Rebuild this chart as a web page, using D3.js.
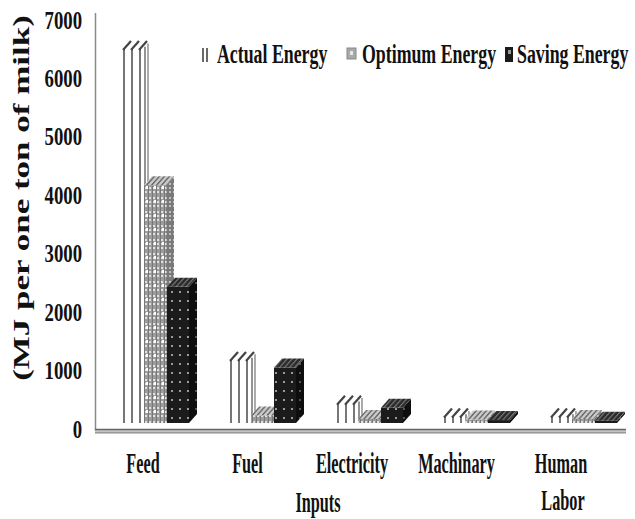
<!DOCTYPE html>
<html><head><meta charset="utf-8">
<script src="https://cdn.jsdelivr.net/npm/d3@7"></script>
<style>
html,body{margin:0;padding:0;background:#fff;}
svg{display:block;font-family:"Liberation Serif","Times New Roman",serif;font-weight:bold;}
</style></head><body>
<svg id="chart" width="635" height="519"></svg>
<script>
// Energy inputs per ton of milk (MJ)
const categories = ["Feed", "Fuel", "Electricity", "Machinary", "Human Labor"];
const seriesNames = ["Actual Energy", "Optimum Energy", "Saving Energy"];
const actualEnergy = [6400, 1080, 330, 110, 110];
const optimumEnergy = [4070, 130, 70, 60, 70];
const savingEnergy = [2330, 950, 260, 50, 40];
const yTicks = [0, 1000, 2000, 3000, 4000, 5000, 6000, 7000];
const yTitle = "(MJ per one ton of milk)";
const xTitle = "Inputs";

const seriesValues = [actualEnergy, optimumEnergy, savingEnergy];

const svg = d3.select("#chart");
const defs = svg.append("defs");

// scales
const y = d3.scaleLinear().domain([0, 7000]).range([429, 20]);
const xBand = d3.scaleBand().domain(categories).range([121, 656]).padding(0);
const xSeries = d3.scaleBand().domain(seriesNames).range([0, 69]).padding(0);
const xLabel = d3.scalePoint().domain(categories).range([143, 561]);

// 3D box geometry
const W = 22, DX = 8, DY = 9, LIFT = 6;
const base = y(0) - LIFT;

// fill patterns
function dotPattern(id, w, h, bg, dots) {
  const p = defs.append("pattern").attr("id", id)
    .attr("patternUnits", "userSpaceOnUse").attr("width", w).attr("height", h);
  p.append("rect").attr("width", w).attr("height", h).attr("fill", bg);
  dots.forEach(d => p.append("rect").attr("x", d[0]).attr("y", d[1])
    .attr("width", d[2]).attr("height", d[3]).attr("fill", d[4]));
}
// optimum: grey grid with light specks
dotPattern("pOpt", 8, 14, "#9c9c9c", [
  [0, 0, 1, 14, "#777"], [4, 0, 1, 14, "#777"],
  [1, 1, 2, 2, "#e0e0e0"], [5, 1, 2, 2, "#e0e0e0"],
  [1, 5, 2, 2, "#e0e0e0"], [5, 5, 2, 2, "#e0e0e0"],
  [1, 9, 2, 2, "#e0e0e0"], [5, 9, 2, 2, "#e0e0e0"],
  [2, 4, 2, 3, "#ffffff"]
]);
dotPattern("pOptSide", 8, 14, "#7a7a7a", [
  [1, 1, 2, 2, "#c0c0c0"], [5, 1, 2, 2, "#c0c0c0"],
  [1, 5, 2, 2, "#c0c0c0"], [5, 5, 2, 2, "#c0c0c0"],
  [1, 9, 2, 2, "#c0c0c0"], [5, 9, 2, 2, "#c0c0c0"]
]);
// saving: black with grey dots
dotPattern("pSave", 8, 9, "#1b1b1b", [
  [3, 3, 2, 2, "#9a9a9a"]
]);
dotPattern("pSaveSide", 8, 9, "#0e0e0e", [
  [3, 3, 2, 2, "#555"]
]);
// hatched top faces, strokes running along the depth direction
function hatch(id, bg, stroke, sw) {
  const p = defs.append("pattern").attr("id", id)
    .attr("patternUnits", "userSpaceOnUse").attr("width", 5).attr("height", 10)
    .attr("patternTransform", "skewX(-41.6)");
  p.append("rect").attr("width", 5).attr("height", 10).attr("fill", bg);
  p.append("rect").attr("x", 0).attr("width", sw).attr("height", 10).attr("fill", stroke);
}
hatch("pOptTop", "#c8c8c8", "#707070", 2);
hatch("pSaveTop", "#2c2c2c", "#777", 1.5);

// axes frame
svg.append("line").attr("x1", 95.5).attr("x2", 95.5).attr("y1", 13).attr("y2", 431)
  .attr("stroke", "#8a8a8a").attr("stroke-width", 1.5);
svg.append("rect").attr("x", 95).attr("y", 429).attr("width", 531).attr("height", 4).attr("fill", "#c4c4c4");
svg.append("line").attr("x1", 95).attr("x2", 626).attr("y1", 429.5).attr("y2", 429.5)
  .attr("stroke", "#666").attr("stroke-width", 1.3);
svg.append("line").attr("x1", 95).attr("x2", 626).attr("y1", 432.8).attr("y2", 432.8)
  .attr("stroke", "#8c8c8c").attr("stroke-width", 1.2);

// y axis labels, compressed horizontally and right-aligned at the axis group origin
const yAxis = d3.axisLeft(y).tickValues(yTicks).tickSize(0).tickPadding(0).tickFormat(d3.format("d"));
const gy = svg.append("g").attr("transform", "translate(82,0)").call(yAxis);
gy.select(".domain").remove();
gy.selectAll("text")
  .attr("font-family", "'Liberation Serif','Times New Roman',serif")
  .attr("font-weight", "bold").attr("font-size", 25).attr("fill", "#111")
  .attr("x", 0).attr("dy", "0.32em")
  .attr("transform", "scale(0.75,1)");

// bars
const bars = svg.append("g");
const pts = a => a.map(p => p.join(",")).join(" ");
categories.forEach((c, i) => {
  seriesNames.forEach((s, j) => {
    const v = seriesValues[j][i];
    const x0 = xBand(c) + xSeries(s);
    const top = y(v) - LIFT;
    const g = bars.append("g");
    const side = [[x0 + W, base], [x0 + W, top], [x0 + W + DX, top - DY], [x0 + W + DX, base - DY]];
    const topFace = [[x0, top], [x0 + W, top], [x0 + W + DX, top - DY], [x0 + DX, top - DY]];
    if (j === 0) {
      // white box drawn with vertical rules and a slashed top
      g.append("polygon").attr("points", pts(side)).attr("fill", "#fff");
      g.append("rect").attr("x", x0).attr("y", top).attr("width", W).attr("height", base - top).attr("fill", "#fff");
      g.append("polygon").attr("points", pts(topFace)).attr("fill", "#fff");
      [3, 11, 19].forEach(o => g.append("line")
        .attr("x1", x0 + o).attr("x2", x0 + o).attr("y1", top).attr("y2", base)
        .attr("stroke", "#555").attr("stroke-width", 1.6));
      [W + 2, W + 5].forEach((o, k) => g.append("line")
        .attr("x1", x0 + o).attr("x2", x0 + o)
        .attr("y1", top - DY * (o - W) / DX).attr("y2", base - DY * (o - W) / DX)
        .attr("stroke", k ? "#888" : "#666").attr("stroke-width", 1.4));
      [3, 11, 19].forEach(o => g.append("line")
        .attr("x1", x0 + o - 1).attr("y1", top + 1)
        .attr("x2", x0 + o + DX - 1).attr("y2", top - DY + 1)
        .attr("stroke", "#444").attr("stroke-width", 2.2));
    } else {
      const f = j === 1 ? "pOpt" : "pSave";
      g.append("polygon").attr("points", pts(side)).attr("fill", `url(#${f}Side)`);
      g.append("rect").attr("x", x0).attr("y", top).attr("width", W).attr("height", base - top)
        .attr("fill", `url(#${f})`);
      g.append("polygon").attr("points", pts(topFace)).attr("fill", `url(#${f}Top)`);
    }
  });
});

// text helper: horizontally compressed serif labels
function label(x, yy, txt, size, sx, anchor) {
  return svg.append("text")
    .attr("transform", `translate(${x},${yy}) scale(${sx},1)`)
    .attr("text-anchor", anchor).attr("font-size", size).attr("fill", "#111")
    .text(txt);
}

// category labels (multi-word names wrap onto two lines)
categories.forEach(c => {
  const words = c.split(" ");
  words.forEach((w, k) => label(xLabel(c) + (k ? 2 : 0), 473 + k * 37, w, 29, 0.56, "middle"));
});
label(318, 512, xTitle, 29, 0.56, "middle");

// y title
svg.append("text")
  .attr("transform", "translate(28.5,198) rotate(-90) scale(1,0.66)")
  .attr("text-anchor", "middle").attr("font-size", 35).attr("fill", "#111")
  .text(yTitle);

// legend
const legendX = [217, 362, 517];
seriesNames.forEach((s, j) => {
  label(legendX[j], 63, s, 27, 0.66, "start");
});
const lx = legendX.map(v => v - 14);
// actual swatch: two vertical rules
[0, 4].forEach(o => svg.append("line").attr("x1", lx[0] + o).attr("x2", lx[0] + o)
  .attr("y1", 48).attr("y2", 62).attr("stroke", "#444").attr("stroke-width", 1.6));
svg.append("rect").attr("x", lx[1] - 1).attr("y", 48).attr("width", 9).attr("height", 11)
  .attr("fill", "#a8a8a8").attr("stroke", "#888");
svg.append("rect").attr("x", lx[1] + 2).attr("y", 51).attr("width", 3).attr("height", 4).attr("fill", "#e6e6e6");
svg.append("rect").attr("x", lx[2] + 2).attr("y", 47).attr("width", 8).attr("height", 15).attr("fill", "#1b1b1b");
svg.append("rect").attr("x", lx[2] + 5).attr("y", 50).attr("width", 3).attr("height", 4).attr("fill", "#9a9a9a");
</script>
</body></html>
